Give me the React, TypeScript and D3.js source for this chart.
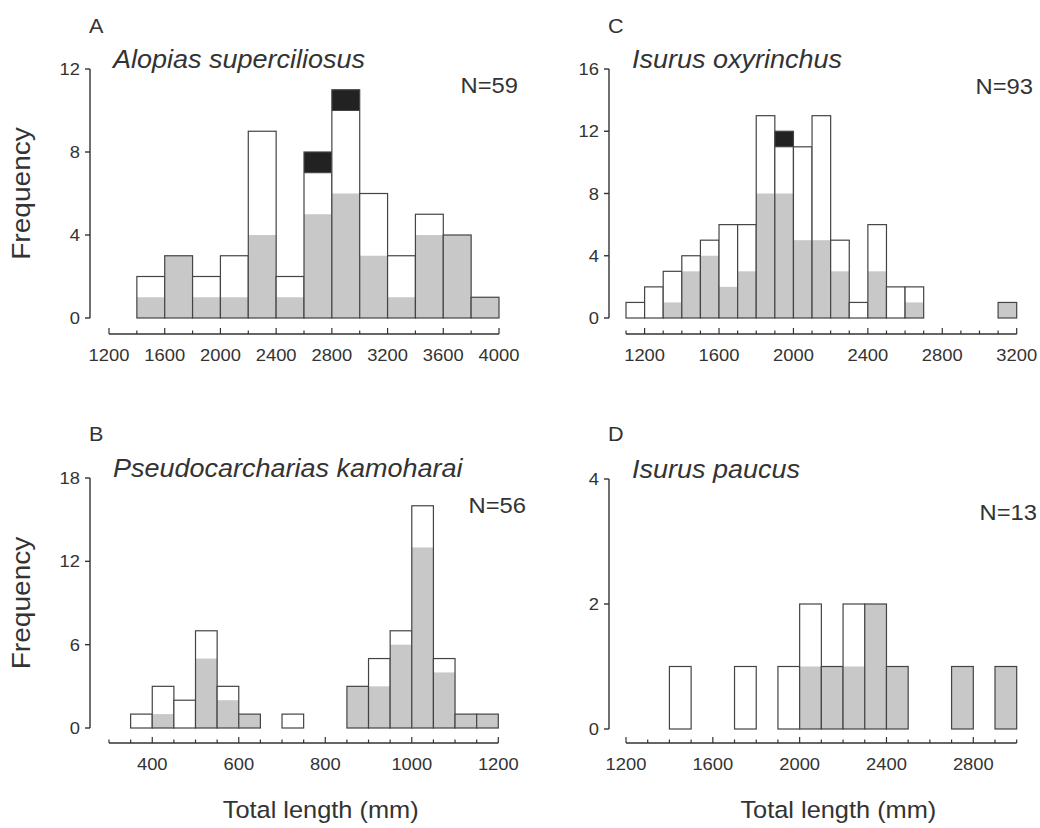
import React from "react";
import * as d3 from "d3";

// A: Alopias superciliosus, 200 mm bins
const aBins = [1400, 1600, 1800, 2000, 2200, 2400, 2600, 2800, 3000, 3200, 3400, 3600, 3800];
const aGray = [1, 3, 1, 1, 4, 1, 5, 6, 3, 1, 4, 4, 1];
const aWhite = [1, 0, 1, 2, 5, 1, 2, 4, 3, 2, 1, 0, 0];
const aBlack = [0, 0, 0, 0, 0, 0, 1, 1, 0, 0, 0, 0, 0];

// B: Pseudocarcharias kamoharai, 50 mm bins
const bBins = [350, 400, 450, 500, 550, 600, 700, 850, 900, 950, 1000, 1050, 1100, 1150];
const bGray = [0, 1, 0, 5, 2, 1, 0, 3, 3, 6, 13, 4, 1, 1];
const bWhite = [1, 2, 2, 2, 1, 0, 1, 0, 2, 1, 3, 1, 0, 0];
const bBlack = [0, 0, 0, 0, 0, 0, 0, 0, 0, 0, 0, 0, 0, 0];

// C: Isurus oxyrinchus, 100 mm bins
const cBins = [1100, 1200, 1300, 1400, 1500, 1600, 1700, 1800, 1900, 2000, 2100, 2200, 2300, 2400, 2500, 2600, 3100];
const cGray = [0, 0, 1, 3, 4, 2, 3, 8, 8, 5, 5, 3, 0, 3, 0, 1, 1];
const cWhite = [1, 2, 2, 1, 1, 4, 3, 5, 3, 6, 8, 2, 1, 3, 2, 1, 0];
const cBlack = [0, 0, 0, 0, 0, 0, 0, 0, 1, 0, 0, 0, 0, 0, 0, 0, 0];

// D: Isurus paucus, 100 mm bins
const dBins = [1400, 1700, 1900, 2000, 2100, 2200, 2300, 2400, 2700, 2900];
const dGray = [0, 0, 0, 1, 1, 1, 2, 1, 1, 1];
const dWhite = [1, 1, 1, 1, 0, 1, 0, 0, 0, 0];
const dBlack = [0, 0, 0, 0, 0, 0, 0, 0, 0, 0];

const yTicksA = [0, 4, 8, 12];
const yTicksB = [0, 6, 12, 18];
const yTicksC = [0, 4, 8, 12, 16];
const yTicksD = [0, 2, 4];

const FONT = "'Liberation Sans', Arial, Helvetica, sans-serif";
const INK = "#333";
const SX = 1.08;

const panels = [
  {
    letter: "A", species: "Alopias superciliosus", n: "N=59",
    bins: aBins, width: 200, gray: aGray, white: aWhite, black: aBlack,
    yTicks: yTicksA, xDomain: [1200, 4000], xStep: 200, xLabelStep: 400,
    left: 90, top: 69, bottom: 318, xLeft: 109, xRight: 499, xAxisY: 334,
    nRight: 518, nY: 93, letterY: 33, showYLabel: true, showXTitle: false,
  },
  {
    letter: "C", species: "Isurus oxyrinchus", n: "N=93",
    bins: cBins, width: 100, gray: cGray, white: cWhite, black: cBlack,
    yTicks: yTicksC, xDomain: [1100, 3200], xStep: 100, xLabelStep: 400,
    left: 609, top: 69, bottom: 318, xLeft: 626, xRight: 1016.7, xAxisY: 334,
    nRight: 1033, nY: 94, letterY: 33, showYLabel: false, showXTitle: false,
  },
  {
    letter: "B", species: "Pseudocarcharias kamoharai", n: "N=56",
    bins: bBins, width: 50, gray: bGray, white: bWhite, black: bBlack,
    yTicks: yTicksB, xDomain: [300, 1200], xStep: 50, xLabelStep: 200,
    left: 90, top: 478, bottom: 728, xLeft: 109, xRight: 498.3, xAxisY: 743,
    nRight: 526, nY: 513, letterY: 441, showYLabel: true, showXTitle: true,
  },
  {
    letter: "D", species: "Isurus paucus", n: "N=13",
    bins: dBins, width: 100, gray: dGray, white: dWhite, black: dBlack,
    yTicks: yTicksD, xDomain: [1200, 3000], xStep: 100, xLabelStep: 400,
    left: 609, top: 479, bottom: 729, xLeft: 626, xRight: 1016.7, xAxisY: 743,
    nRight: 1037, nY: 520, letterY: 441, showYLabel: false, showXTitle: true,
  },
];

function T({ x, y, size, anchor = "start", italic = false, rotate = 0, dy, children }: any) {
  return (
    <text
      transform={`translate(${x},${y}) rotate(${rotate}) scale(${SX},1)`}
      fontSize={size}
      fontFamily={FONT}
      fontStyle={italic ? "italic" : "normal"}
      textAnchor={anchor}
      dy={dy}
      fill={INK}
    >
      {children}
    </text>
  );
}

function Panel({ p }: any) {
  const yMax = p.yTicks[p.yTicks.length - 1];
  const y = d3.scaleLinear().domain([0, yMax]).range([p.bottom, p.top]);
  const x = d3.scaleLinear().domain(p.xDomain).range([p.xLeft, p.xRight]);
  const xTicks = d3.range(p.xDomain[0], p.xDomain[1] + p.xStep / 2, p.xStep);

  const bars = p.bins.map((b: number, i: number) => {
    const g = p.gray[i], w = p.white[i], k = p.black[i];
    return { x0: x(b), x1: x(b + p.width), g, w, k, total: g + w + k };
  });

  return (
    <g>
      <T x={p.left - 1} y={p.letterY} size={20}>{p.letter}</T>
      <T x={p.left + 23} y={p.top - 1} size={25} italic>{p.species}</T>
      <T x={p.nRight} y={p.nY} size={22} anchor="end">{p.n}</T>

      {bars.map((d: any, i: number) => (
        <g key={i}>
          <rect x={d.x0} y={y(d.total)} width={d.x1 - d.x0} height={y(0) - y(d.total)} fill="#fff" />
          {d.g > 0 && (
            <rect x={d.x0} y={y(d.g)} width={d.x1 - d.x0} height={y(0) - y(d.g)} fill="#c8c8c8" />
          )}
          {d.k > 0 && (
            <rect x={d.x0} y={y(d.total)} width={d.x1 - d.x0} height={y(d.g + d.w) - y(d.total)} fill="#222" />
          )}
          {d.k > 0 && (
            <line x1={d.x0} x2={d.x1} y1={y(d.g + d.w)} y2={y(d.g + d.w)} stroke="#444" strokeWidth={1} />
          )}
          <rect
            x={d.x0}
            y={y(d.total)}
            width={d.x1 - d.x0}
            height={y(0) - y(d.total)}
            fill="none"
            stroke="#444"
            strokeWidth={1.2}
          />
        </g>
      ))}

      {/* y axis */}
      <line x1={p.left} x2={p.left} y1={y(0)} y2={y(yMax)} stroke={INK} strokeWidth={1.4} />
      {p.yTicks.map((t: number) => (
        <g key={t}>
          <line x1={p.left - 5} x2={p.left} y1={y(t)} y2={y(t)} stroke={INK} strokeWidth={1.4} />
          <T x={p.left - 10} y={y(t)} size={17} anchor="end" dy="0.36em">{t}</T>
        </g>
      ))}

      {/* x axis */}
      <line x1={p.xLeft} x2={p.xRight} y1={p.xAxisY} y2={p.xAxisY} stroke={INK} strokeWidth={1.4} />
      {xTicks.map((t: number) => {
        const major = t % p.xLabelStep === 0;
        return (
          <g key={t}>
            <line
              x1={x(t)}
              x2={x(t)}
              y1={p.xAxisY}
              y2={p.xAxisY - (major ? 6 : 3.5)}
              stroke={INK}
              strokeWidth={1.2}
            />
            {major && (
              <T x={x(t)} y={p.xAxisY + 27} size={17} anchor="middle">{t}</T>
            )}
          </g>
        );
      })}

      {p.showYLabel && (
        <T x={30} y={(p.top + p.bottom) / 2} size={26} anchor="middle" rotate={-90}>Frequency</T>
      )}
      {p.showXTitle && (
        <T x={(p.xLeft + p.xRight) / 2 + 17} y={818} size={23.5} anchor="middle">Total length (mm)</T>
      )}
    </g>
  );
}

export default function App() {
  return (
    <svg
      width={1040}
      height={828}
      style={{ position: "absolute", left: 0, top: 0, background: "#fff" }}
    >
      <rect width={1040} height={828} fill="#fff" />
      {panels.map((p) => (
        <Panel key={p.letter} p={p} />
      ))}
    </svg>
  );
}
